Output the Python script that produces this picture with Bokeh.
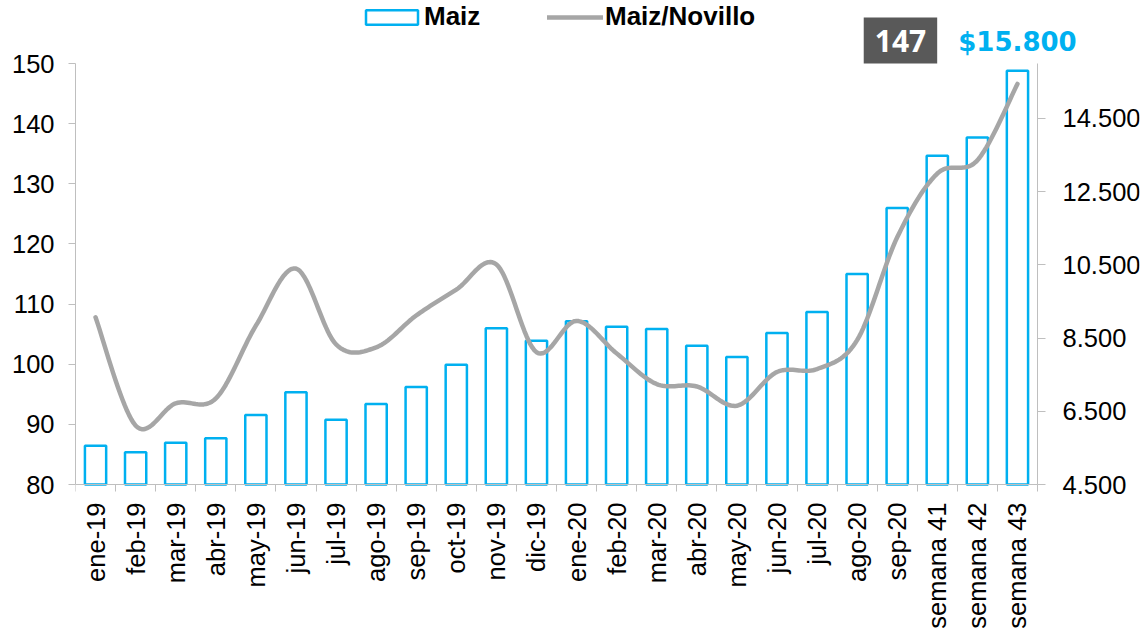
import math
import numpy as np
from bokeh.plotting import figure
from bokeh.core.properties import value
from bokeh.models import (Range1d, LinearAxis, FixedTicker, Legend, LegendItem, Label,
                          LabelSet, ColumnDataSource)
from bokeh.embed import file_html
from bokeh.resources import INLINE

# ---------------- data ----------------
categories = ["ene-19", "feb-19", "mar-19", "abr-19", "may-19", "jun-19", "jul-19",
              "ago-19", "sep-19", "oct-19", "nov-19", "dic-19", "ene-20", "feb-20",
              "mar-20", "abr-20", "may-20", "jun-20", "jul-20", "ago-20", "sep-20",
              "semana 41", "semana 42", "semana 43"]
maiz = [5560, 5380, 5640, 5760, 6400, 7020, 6270, 6700, 7160, 7770, 8770, 8430,
        8960, 8810, 8750, 8290, 7980, 8640, 9210, 10250, 12050, 13480, 13980, 15800]
maiz_novillo = [107.8, 89.8, 93.5, 94.3, 106.4, 115.9, 103.3, 102.8, 108.1, 112.4,
                116.6, 102.0, 107.2, 101.8, 96.7, 96.3, 93.1, 98.7, 99.2, 104.0,
                121.1, 131.7, 133.9, 146.6]
left_ticks = [80, 90, 100, 110, 120, 130, 140, 150]
right_ticks = [4500, 6500, 8500, 10500, 12500, 14500]
left_axis = (80, 150)
right_axis = (4500, 16000)

BLUE = "#00B0F0"
GRAY = "#A6A6A6"
AXIS = "#BFBFBF"
FONT = "Liberation Sans"

# ---------------- layout (pixels) ----------------
W, H = 1147, 632
AXIS_L, AXIS_R = 75, 1037        # left / right value axes
AXIS_TOP, AXIS_BOT = 63, 484     # top and bottom of the value axes
RIGHT_BORDER = 8                 # right axis ticks
BOTTOM_BORDER = 0
FRAME_R = W - RIGHT_BORDER
FRAME_B = H - BOTTOM_BORDER


def miles(v):
    return f"{v:,.0f}".replace(",", ".")


def smooth(xs, ys, steps=20):
    """Excel-like smoothed line (Catmull-Rom as cubic Bezier)."""
    xs = list(xs); ys = list(ys)
    m = len(xs)
    ox, oy = [], []
    for i in range(m - 1):
        x0, y0 = (xs[i - 1], ys[i - 1]) if i > 0 else (xs[i], ys[i])
        x1, y1 = xs[i], ys[i]
        x2, y2 = xs[i + 1], ys[i + 1]
        x3, y3 = (xs[i + 2], ys[i + 2]) if i + 2 < m else (xs[i + 1], ys[i + 1])
        c1x, c1y = x1 + (x2 - x0) / 6, y1 + (y2 - y0) / 6
        c2x, c2y = x2 - (x3 - x1) / 6, y2 - (y3 - y1) / 6
        t = np.linspace(0, 1, steps, endpoint=(i == m - 2))
        a, b, c, d = (1 - t) ** 3, 3 * (1 - t) ** 2 * t, 3 * (1 - t) * t ** 2, t ** 3
        ox.extend(a * x1 + b * c1x + c * c2x + d * x2)
        oy.extend(a * y1 + b * c1y + c * c2y + d * y2)
    return ox, oy


def padded(rng):
    """Extend a value range so that it spans the whole (enlarged) frame."""
    per_px = (rng[1] - rng[0]) / (AXIS_BOT - AXIS_TOP)
    return (rng[0] - (FRAME_B - AXIS_BOT) * per_px, rng[1] + AXIS_TOP * per_px)


n = len(categories)
xc = [i + 0.5 for i in range(n)]

# The frame covers nearly the whole canvas so that nothing (legend, value tags,
# tick labels) is clipped; the axes are bounded to their real spans.
x_end = n * (FRAME_R - AXIS_L) / (AXIS_R - AXIS_L)
left_range = padded(left_axis)
right_range = padded(right_axis)

p = figure(width=W, height=H, x_range=Range1d(0, x_end),
           y_range=Range1d(*left_range), output_backend="svg",
           toolbar_location=None, min_border_left=AXIS_L,
           min_border_right=RIGHT_BORDER, min_border_top=0,
           min_border_bottom=BOTTOM_BORDER, outline_line_color=None,
           background_fill_color="white", border_fill_color="white")
p.grid.visible = False
p.extra_y_ranges = {"right": Range1d(*right_range)}

# bottom axis (line + category separators); labels drawn as a LabelSet
xa = p.xaxis[0]
xa.bounds = (0, n)
xa.fixed_location = left_axis[0]
xa.ticker = FixedTicker(ticks=xc, minor_ticks=list(range(n + 1)))
xa.major_label_overrides = {float(x): "" for x in xc}
xa.major_label_text_font_size = "0px"
xa.major_label_standoff = 0
xa.major_tick_line_color = None
xa.major_tick_out = 0
xa.major_tick_in = 0
xa.minor_tick_out = 7
xa.minor_tick_in = 0
xa.minor_tick_line_color = AXIS
xa.axis_line_color = AXIS

xsrc = ColumnDataSource(dict(x=xc, y=[left_axis[0]] * n, text=categories))
xlabels = LabelSet(x="x", y="y", text="text", source=xsrc, angle=math.pi / 2,
                   y_offset=-18, text_align="right", text_baseline="middle",
                   text_font=value(FONT), text_font_size=value("25.5px"),
                   text_color="black")
p.add_layout(xlabels)

# left axis
ya = p.yaxis[0]
ya.ticker = FixedTicker(ticks=left_ticks)
ya.bounds = left_axis
ya.axis_line_color = AXIS
ya.major_tick_line_color = AXIS
ya.major_tick_out = 7
ya.major_tick_in = 0
ya.minor_tick_line_color = None
ya.major_label_text_font = FONT
ya.major_label_text_font_size = "25.5px"
ya.major_label_text_color = "black"
ya.major_label_standoff = 14

# right axis: drawn at the end of the categories; its labels are a LabelSet
ra = LinearAxis(y_range_name="right", ticker=FixedTicker(ticks=right_ticks),
                bounds=right_axis, fixed_location=n,
                major_label_overrides={t: "" for t in right_ticks})
ra.axis_line_color = AXIS
ra.major_tick_line_color = AXIS
ra.major_tick_out = 8
ra.major_tick_in = 0
ra.minor_tick_line_color = None
ra.major_label_text_font_size = "0px"
ra.major_label_standoff = 0
p.add_layout(ra, "right")

rsrc = ColumnDataSource(dict(x=[n] * len(right_ticks), y=right_ticks,
                             text=[miles(t) for t in right_ticks]))
rlabels = LabelSet(x="x", y="y", text="text", source=rsrc, y_range_name="right",
                   x_offset=25, text_align="left", text_baseline="middle",
                   text_font=value(FONT), text_font_size=value("25.5px"),
                   text_color="black")
p.add_layout(rlabels)

# bars (right axis)
bars = p.vbar(x=xc, top=maiz, bottom=right_axis[0], width=0.53,
              y_range_name="right", fill_color="white", line_color=BLUE,
              line_width=2.5)

# smoothed line (left axis)
sx, sy = smooth(xc, maiz_novillo)
line = p.line(sx, sy, line_color=GRAY, line_width=4.5, line_cap="round",
              line_join="round")

# legends (location: px from the frame's bottom-left corner)
LEG_BOTTOM = 32
common = dict(orientation="horizontal", padding=0, margin=0, spacing=0,
              border_line_color=None, background_fill_alpha=0,
              label_text_font=FONT, label_text_font_style="bold",
              label_text_font_size="26px", label_text_color="black")
leg1 = Legend(items=[LegendItem(label="Maiz", renderers=[bars])],
              location=(359 - AXIS_L, FRAME_B - LEG_BOTTOM), glyph_width=65,
              glyph_height=18, label_standoff=0, **common)
leg2 = Legend(items=[LegendItem(label="Maiz/Novillo", renderers=[line])],
              location=(547 - AXIS_L, FRAME_B - LEG_BOTTOM), glyph_width=56,
              glyph_height=18, label_standoff=2, **common)
p.add_layout(leg1)
p.add_layout(leg2)

# value tags for the last point
lab_ratio = Label(x=xc[-1], y=left_axis[1], x_offset=-117, y_offset=23,
                  text=str(int(round(maiz_novillo[-1]))), text_align="center",
                  text_baseline="middle", text_color="white",
                  text_font="Open Sans", text_font_style="bold",
                  text_font_size="30px", background_fill_color="#595959",
                  padding=(11, 12))
lab_price = Label(x=xc[-1], y=left_axis[1], x_offset=0, y_offset=22,
                  text="$" + miles(maiz[-1]), text_align="center",
                  text_baseline="middle", text_color=BLUE,
                  text_font="DejaVu Sans", text_font_style="bold",
                  text_font_size="26px")
p.add_layout(lab_ratio)
p.add_layout(lab_price)

open("out.html", "w").write(file_html(p, INLINE))
